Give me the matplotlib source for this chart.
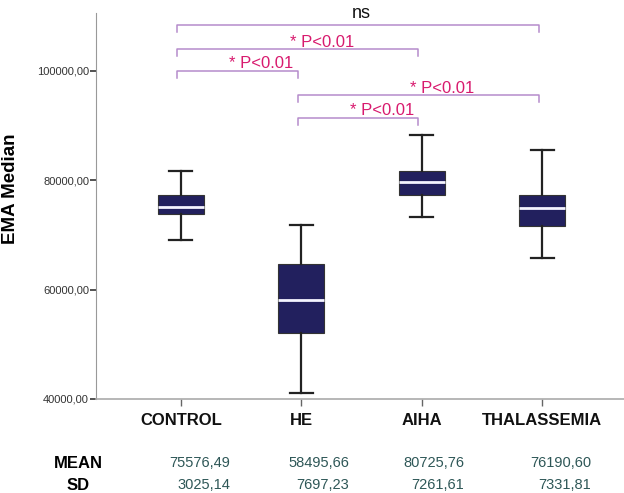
import matplotlib.pyplot as plt

plt.rcParams['font.family'] = ['Liberation Sans', 'DejaVu Sans']

groups = ['CONTROL', 'HE', 'AIHA', 'THALASSEMIA']
whis_lo = [69030, 41160, 73290, 65850]
q1 = [73790, 52080, 77320, 71590]
medians = [75180, 58060, 79700, 74940]
q3 = [77320, 64750, 81760, 77320]
whis_hi = [81760, 71830, 88290, 85550]

means = ['75576,49', '58495,66', '80725,76', '76190,60']
sds = ['3025,14', '7697,23', '7261,61', '7331,81']

# comparisons: (left group, right group), bracket height, label
pairs = [(0, 3), (0, 2), (0, 1), (1, 3), (1, 2)]
pair_y = [108400, 104000, 100050, 95600, 91450]
pair_labels = ['ns', '* P<0.01', '* P<0.01', '* P<0.01', '* P<0.01']

fig = plt.figure(figsize=(6.24, 4.93), dpi=100)
ax = fig.add_axes([0.1538, 0.1907, 0.8462, 0.7830])

stats = []
for i, g in enumerate(groups):
    stats.append({'label': g, 'whislo': whis_lo[i], 'q1': q1[i], 'med': medians[i],
                  'q3': q3[i], 'whishi': whis_hi[i], 'fliers': []})

ax.bxp(stats, positions=range(len(groups)), widths=0.38, patch_artist=True,
       showfliers=False, capwidths=0.19,
       boxprops=dict(facecolor='#22205e', edgecolor='#333333', linewidth=0.8),
       medianprops=dict(color='#f4f4ff', linewidth=2),
       whiskerprops=dict(color='#222222', linewidth=1.6),
       capprops=dict(color='#222222', linewidth=1.6))

ax.set_xlim(-0.705, 3.68)
ax.set_ylim(40000, 110600)
ax.set_yticks([40000, 60000, 80000, 100000])
ax.set_yticklabels(['40000,00', '60000,00', '80000,00', '100000,00'], fontsize=8, color='#333333')
ax.set_xticks(range(len(groups)))
ax.set_xticklabels(groups, fontsize=12, fontweight='bold', color='#111111')
ax.tick_params(axis='x', length=5, width=1, color='#666666', pad=5)
ax.tick_params(axis='y', length=4, width=1.2, color='#333333', pad=1)

for s in ['top', 'right']:
    ax.spines[s].set_visible(False)
ax.spines['left'].set_color('#999999')
ax.spines['bottom'].set_color('#aaaaaa')
ax.spines['bottom'].set_linewidth(1.2)

ax.set_ylabel('EMA Median', fontsize=13.5, fontweight='bold')
ax.yaxis.set_label_coords(-0.145, 0.545)

tick = 1300
for (a, b), y, lab in zip(pairs, pair_y, pair_labels):
    ax.plot([a - 0.03, a - 0.03, b - 0.03, b - 0.03], [y - tick, y, y, y - tick],
            color='#b58ccb', linewidth=1.1, clip_on=False)
    if lab == 'ns':
        ax.text((a + b) / 2, y + 500, lab, ha='center', va='bottom', fontsize=13, color='#111111')
    else:
        ax.text((a + b) / 2 + 0.17, y - 100, lab, ha='center', va='bottom', fontsize=12, color='#d81a6e')

# mean / sd table below the chart
fig.text(78 / 624, 1 - 463 / 493, 'MEAN', ha='center', va='center', fontsize=12, fontweight='bold')
fig.text(78 / 624, 1 - 485 / 493, 'SD', ha='center', va='center', fontsize=12, fontweight='bold')
right_px = [230, 349, 464, 591]
for rx, m, s in zip(right_px, means, sds):
    fig.text(rx / 624, 1 - 463 / 493, m, ha='right', va='center', fontsize=10.5, color='#2e5757')
    fig.text(rx / 624, 1 - 485 / 493, s, ha='right', va='center', fontsize=10.5, color='#2e5757')

fig.savefig('out.png', dpi=100)
